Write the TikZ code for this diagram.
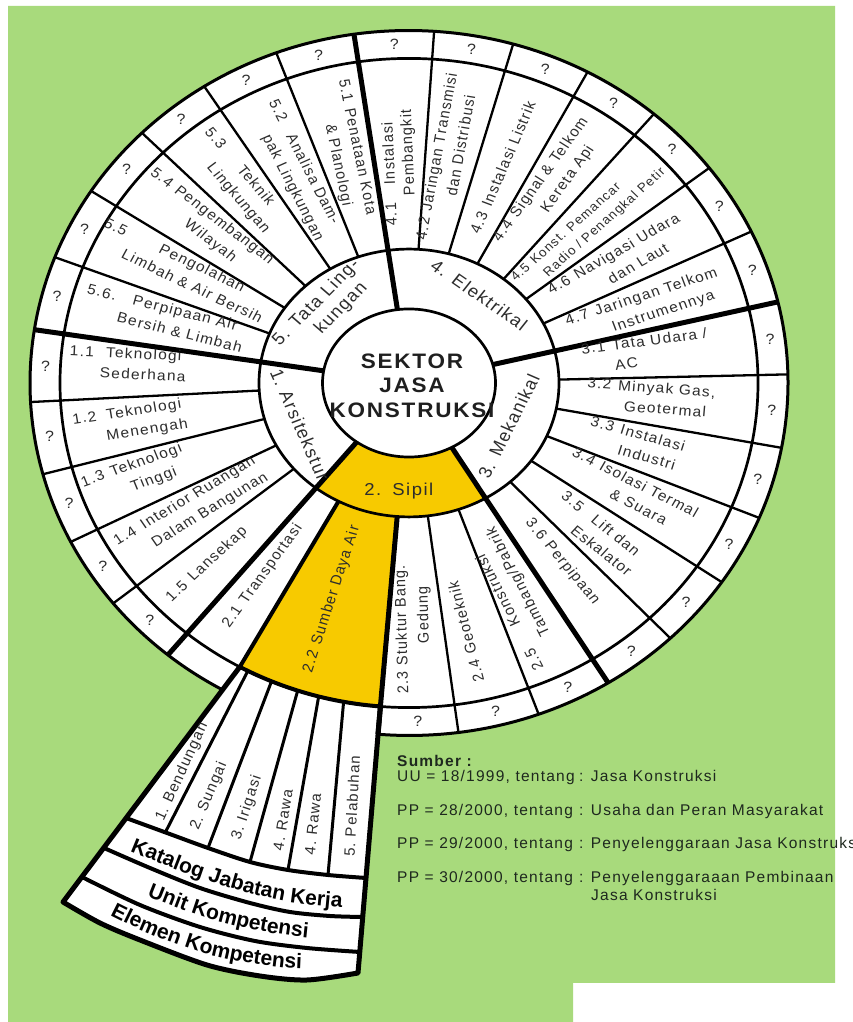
\documentclass[tikz,border=0pt]{standalone}
\usepackage{fontspec}
\setmainfont{Liberation Sans}
\newfontfamily\lblfont[LetterSpace=8]{Liberation Sans}
\usetikzlibrary{decorations.text}
\definecolor{bggreen}{RGB}{168,218,124}
\definecolor{sipilyel}{RGB}{247,202,0}
\definecolor{ink}{RGB}{45,45,45}
\definecolor{legink}{RGB}{30,40,30}
\newcommand\lblsz{\lblfont\fontsize{15.5}{22}\selectfont}
\newcommand\lbltight{\lblfont\fontsize{15.5}{19}\selectfont}
\newcommand\lblsmall{\lblfont\fontsize{13.5}{19}\selectfont}
\newcommand\wlblsz{\lblfont\fontsize{15}{18}\selectfont}
\newcommand\secsz{\lblfont\fontsize{18.5}{22}\selectfont}
\newcommand\ctrsz{\lblfont\bfseries\fontsize{22.5}{26}\selectfont}
\newcommand\qsz{\lblfont\fontsize{16}{18}\selectfont}
\newcommand\legsz{\lblfont\fontsize{15.5}{18}\selectfont}
\newcommand\wedsz{\bfseries\fontsize{21}{24}\selectfont}
\newcommand\twol[2]{#1\hspace{0.45em}\begin{tabular}[t]{@{}c@{}}#2\end{tabular}}
\newcommand\twoll[2]{#1\hspace{0.45em}\begin{tabular}[t]{@{}l@{}}#2\end{tabular}}
\tikzset{
  wheel/.style={shift={(409,639)}, yscale=0.93, transform shape},
  img/.style={yshift=1022pt, y=-1pt},
  subdiv/.style={line width=2.3pt},
  secdiv/.style={line width=5pt},
  ringline/.style={line width=2.7pt},
  lbl/.style={font=\lblsz, text=ink, inner sep=0pt},
  wlbl/.style={font=\wlblsz, text=ink, inner sep=0pt},
  seclbl/.style={font=\secsz, text=ink, inner sep=0pt},
  qm/.style={font=\qsz, text=ink, inner sep=0pt},
  leg/.style={font=\legsz, text=legink, inner sep=0pt},
  wedgeedge/.style={line width=5pt},
  wedgearc/.style={line width=4pt},
  wedgediv/.style={line width=3pt},
}
\begin{document}
\begin{tikzpicture}[x=1pt, y=1pt, line join=round,
  declare function={er(\pa,\pb,\pt)=\pa/sqrt(cos(\pt)^2+(\pa/\pb*sin(\pt))^2);
    ra(\pt)=er(86.5,79.6,\pt); rb(\pt)=er(150,144,\pt);}]
\useasboundingbox (0,0) rectangle (853,1022);
% background
\begin{scope}[img]
  \fill[white] (0,0) rectangle (853,1022);
  \fill[bggreen] (8,6) -- (835,6) -- (835,983) -- (573,983) -- (573,1022) -- (8,1022) -- cycle;
\end{scope}
% wheel fills
\begin{scope}[wheel]
  \fill[white] (0,0) circle[radius=379pt];
  \fill[sipilyel] plot[domain=230.5:301.7, samples=50] (\x:{ra(\x)}) -- plot[domain=301.7:230.5, samples=50] (\x:{rb(\x)}) -- cycle;
  \fill[sipilyel] plot[domain=241:265.3, samples=30] (\x:{rb(\x)}) -- (265.3:349) arc[start angle=265.3, end angle=241, radius=349pt] -- cycle;
  \coordinate (w0) at (241:349);
  \coordinate (w1) at (247:349);
  \coordinate (w2) at (253:349);
  \coordinate (w3) at (259:349);
  \coordinate (w4) at (265.3:349);
  \coordinate (d1) at (242.5:349);
  \coordinate (d2) at (246.8:349);
  \coordinate (d3) at (251.4:349);
  \coordinate (d4) at (255:349);
  \coordinate (d5) at (259.2:349);
\end{scope}
% wedge fill
\begin{scope}[img]
  \fill[white] (w0) -- (63,902) -- plot[smooth] coordinates {(63,902) (100,923) (140,940) (207,965) (260,976) (307,980) (358,973)} -- (w4) -- (w3) -- (w2) -- (w1) -- cycle;
\end{scope}
% wheel lines and labels
\begin{scope}[wheel]
  \draw[ringline] (0,0) ellipse[x radius=86.5pt, y radius=79.6pt];
  \draw[ringline] (0,0) ellipse[x radius=150pt, y radius=144pt];
  \draw[ringline] (0,0) circle[radius=349pt];
  \draw[line width=3pt] (265.3:379) arc[start angle=265.3, end angle=600.5, radius=379pt];
  \draw[line width=4pt] (241:349) arc[start angle=241, end angle=265.3, radius=349pt];
  \foreach \ang in {25.45,37.6,49.75,61.9,74.05,86.2,110.5,122.7,134.8,147.0,159.1,183.1,195.0,206.8,218.7,277.5,290,313.6,325.6,337.5,349.4,361.4}
    \draw[subdiv] (\ang:{rb(\ang)}) -- (\ang:379);
  \foreach \ang in {13.3,98.35,171.3,230.5,301.7}
    \draw[secdiv] (\ang:{ra(\ang)}) -- (\ang:379);
  \draw[secdiv] (265.3:{rb(265.3)}) -- (265.3:379);
  \draw[line width=4pt] (241:{rb(241)}) -- (241:349);
  % question marks
  \foreach \ang [count=\i] in {19.4,31.5,43.7,55.8,68.0,80.1,92.3,104.4,116.6,128.75,140.9,153.05,165.2,177.2,189.05,200.9,212.75,224.6,271.4,283.75,295.85,307.65,319.6,331.55,343.45,355.4,367.35}
    \node[qm] (q\i) at (\ang:364) {?};
  % centre
  \node[font=\ctrsz, text=black!88, align=center, inner sep=0pt] (ctr) at (3,-3) {SEKTOR\\JASA\\KONSTRUKSI};
  % sector labels
  \node[seclbl, rotate=-36.5] (sec4) at (53.5:118) {4.\hspace{0.5em}Elektrikal};
  \node[seclbl, rotate=47] (sec5) at (137:115) {\twol{5.}{Tata Ling-\\kungan}};
  \node[seclbl, rotate=-67.6] (sec1) at (202.4:118) {1.\hspace{0.4em}Arsitekstur};
  \node[seclbl] (sec2) at (265:117) {2.\hspace{0.6em}Sipil};
  \node[seclbl, rotate=65] (sec3) at (-25:110) {3.\hspace{0.5em}Mekanikal};
  % Elektrikal
  \node[lbl, font=\lbltight, rotate=92.3] (s41) at (92.2:232) {\twol{4.1}{Instalasi\\Pembangkit}};
  \node[lbl, rotate=80.1] (s42) at (80.8:245) {\twol{4.2}{Jaringan Transmisi\\dan Distribusi}};
  \node[lbl, rotate=68] (s43) at (68:250) {4.3\hspace{0.45em}Instalasi Listrik};
  \node[lbl, rotate=55.8] (s44) at (56.5:255) {\twol{4.4}{Signal \& Telkom\\Kereta Api}};
  \node[lbl, font=\lblsmall, rotate=43.7] (s45) at (43.5:247) {\twoll{4.5}{Konst. Pemancar\\Radio / Penangkal Petir}};
  \node[lbl, rotate=31.5] (s46) at (31.5:247) {\twol{4.6}{Navigasi Udara\\dan Laut}};
  \node[lbl, rotate=19.4] (s47) at (19.2:250) {\twol{4.7}{Jaringan Telkom\\Instrumennya}};
  % Tata Lingkungan
  \node[lbl, rotate=-79] (s51) at (104:259) {\twol{5.1}{Penataan Kota\\\& Planologi}};
  \node[lbl, rotate=-64.5] (s52) at (116.3:255) {\twol{5.2}{Analisa Dam-\\pak Lingkungan}};
  \node[lbl, rotate=-51.25] (s53) at (128.3:277) {\twol{5.3}{Teknik\\Lingkungan}};
  \node[lbl, rotate=-39.1] (s54) at (140:266) {\twol{5.4}{Pengembangan\\Wilayah}};
  \node[lbl, rotate=-26.9] (s55) at (152:256) {\twol{5.5}{Pengolahan\\Limbah \& Air Bersih}};
  \node[lbl, rotate=-14.8] (s56) at (164.3:254) {\twol{5.6.}{Perpipaan Air\\Bersih \& Limbah}};
  % Arsitektur
  \node[lbl, rotate=-2.8] (s11) at (176:282) {\twol{1.1}{Teknologi\\Sederhana}};
  \node[lbl, rotate=9.05] (s12) at (188.6:282) {\twol{1.2}{Teknologi\\Menengah}};
  \node[lbl, rotate=20.9] (s13) at (199.9:291) {\twol{1.3}{Teknologi\\Tinggi}};
  \node[lbl, rotate=32.75] (s14) at (211.9:257) {\twol{1.4}{Interior Ruangan\\Dalam Bangunan}};
  \node[lbl, rotate=44.6] (s15) at (224:281) {1.5\hspace{0.45em}Lansekap};
  % Sipil
  \node[lbl, rotate=55.75] (s21) at (234.8:254) {2.1\hspace{0.45em}Transportasi};
  \node[lbl, rotate=73.15] (s22) at (251.6:245) {2.2\hspace{0.45em}Sumber Daya Air};
  \node[lbl, rotate=91.4] (s23) at (270.9:265) {\twol{2.3}{Stuktur Bang.\\Gedung}};
  \node[lbl, rotate=103.75] (s24) at (282:273) {2.4\hspace{0.45em}Geoteknik};
  \node[lbl, rotate=115.85] (s25) at (294.6:255) {\twol{2.5}{Konstruksi\\Tambang/Pabrik}};
  % Mekanikal
  \node[lbl, rotate=-52.35] (s36) at (308.6:246) {3.6\hspace{0.45em}Perpipaan};
  \node[lbl, rotate=-40.4] (s35) at (319:248) {\twol{3.5}{Lift dan\\Eskalator}};
  \node[lbl, rotate=-28.45] (s34) at (332:250) {\twol{3.4}{Isolasi Termal\\\& Suara}};
  \node[lbl, rotate=-16.55] (s33) at (343.7:235) {\twol{3.3}{Instalasi\\Industri}};
  \node[lbl, rotate=-4.6] (s32) at (356:242) {\twol{3.2}{Minyak Gas,\\Geotermal}};
  \node[lbl, rotate=8] (s31) at (8:239) {\twoll{3.1}{Tata Udara /\\AC}};
\end{scope}
% wedge lines, labels, legend
\begin{scope}[img]
  \draw[wedgearc] plot[smooth] coordinates {(126,818) (167,833) (208,848) (250,862) (288,870) (328,875) (366,878)};
  \draw[wedgearc] plot[smooth] coordinates {(104,848) (150,868) (200,888) (250,903) (290,912) (330,916) (363,917)};
  \draw[wedgearc] plot[smooth] coordinates {(82,877) (140,905) (200,927) (255,941) (307,948) (360,952)};
  \draw[wedgediv] (d1) -- (165,833);
  \draw[wedgediv] (d2) -- (208,848);
  \draw[wedgediv] (d3) -- (250,862);
  \draw[wedgediv] (d4) -- (288,870);
  \draw[wedgediv] (d5) -- (328,875);
  \draw[wedgeedge] (w0) -- plot[smooth] coordinates {(63,902) (100,923) (140,940) (207,965) (260,976) (307,980) (358,973)} -- (w4);
  \node[wlbl, rotate=65.5] (b1) at (182,772) {1.\hspace{0.4em}Bendungan};
  \node[wlbl, rotate=67] (b2) at (209,796) {2.\hspace{0.4em}Sungai};
  \node[wlbl, rotate=71.6] (b3) at (247,808) {3.\hspace{0.4em}Irigasi};
  \node[wlbl, rotate=81] (b4) at (283,820) {4.\hspace{0.4em}Rawa};
  \node[wlbl, rotate=84] (b5) at (313,824) {4.\hspace{0.4em}Rawa};
  \node[wlbl, rotate=87] (b6) at (352,806) {5.\hspace{0.4em}Pelabuhan};
  \path[decorate, decoration={text along path, text={|\wedsz|Katalog Jabatan Kerja}}]
    plot[smooth] coordinates {(130,851) (185,873) (240,891) (290,902) (335,907) (366,909)};
  \path[decorate, decoration={text along path, text={|\wedsz|Unit Kompetensi}}]
    plot[smooth] coordinates {(147,896) (200,916) (250,929) (300,937) (358,942)};
  \path[decorate, decoration={text along path, text={|\wedsz|Elemen Kompetensi}}]
    plot[smooth] coordinates {(110,915) (150,934) (207,954) (255,964) (305,969) (358,963)};
  % legend
  \node[leg, font=\legsz\bfseries, anchor=base west] (src) at (397,767) {Sumber :};
  \node[leg, anchor=base west] (l1a) at (397,782) {UU = 18/1999, tentang};
  \node[leg, anchor=base west] (l1b) at (579,782) {: Jasa Konstruksi};
  \node[leg, anchor=base west] (l2a) at (397,815.5) {PP = 28/2000, tentang};
  \node[leg, anchor=base west] (l2b) at (579,815.5) {: Usaha dan Peran Masyarakat};
  \node[leg, anchor=base west] (l3a) at (397,849) {PP = 29/2000, tentang};
  \node[leg, anchor=base west] (l3b) at (579,849) {: Penyelenggaraan Jasa Konstruksi};
  \node[leg, anchor=base west] (l4a) at (397,883) {PP = 30/2000, tentang};
  \node[leg, anchor=base west] (l4b) at (579,883) {: Penyelenggaraaan Pembinaan};
  \node[leg, anchor=base west] (l4c) at (591,901) {Jasa Konstruksi};
\end{scope}
\end{tikzpicture}
\end{document}
